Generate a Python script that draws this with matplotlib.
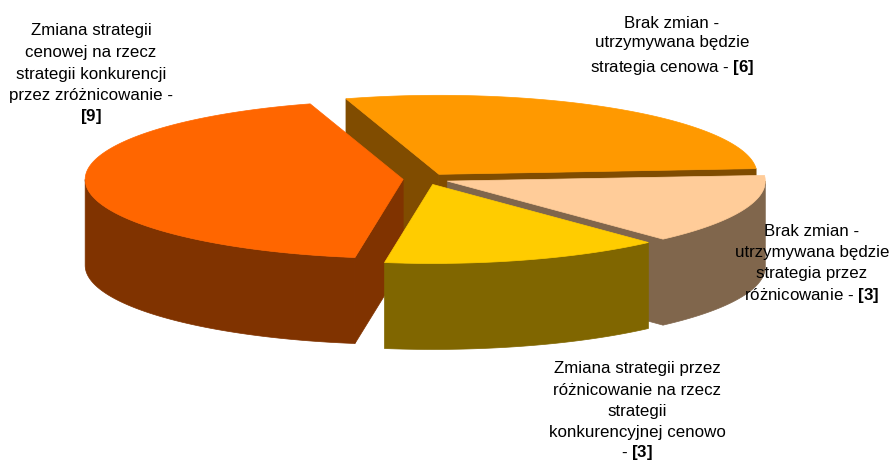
import numpy as np
import matplotlib.pyplot as plt
from matplotlib.patches import Polygon

plt.rcParams['font.family'] = ['Liberation Sans', 'DejaVu Sans']
plt.rcParams['mathtext.fontset'] = 'custom'
plt.rcParams['mathtext.rm'] = 'Liberation Sans'
plt.rcParams['mathtext.bf'] = 'Liberation Sans:bold'

# dane
wartosci = [6, 3, 3, 9]
kolory = ['#FF9900', '#FFCC99', '#FFCC00', '#FF6600']
kolory_boku = ['#804C00', '#80664C', '#806600', '#803300']
opisy = [
    ["Brak zmian -", "utrzymywana będzie", "strategia cenowa - "],
    ["Brak zmian -", "utrzymywana będzie", "strategia przez", "różnicowanie - "],
    ["Zmiana strategii przez", "różnicowanie na rzecz", "strategii",
     "konkurencyjnej cenowo", "- "],
    ["Zmiana strategii", "cenowej na rzecz", "strategii konkurencji",
     "przez zróżnicowanie -", ""],
]

# polozenie opisow (srodek x, linie bazowe)
pozycje_opisow = [
    (672, [28, 47, 72]),
    (812, [236, 257, 278, 300]),
    (637, [373, 395, 416, 437, 457]),
    (91, [35, 57, 79, 100, 121]),
]

# geometria "3D"
cx, cy = 426, 179
a, b = 318, 79      # polosie elipsy
h = 86              # grubosc
wybuch = 0.072      # wysuniecie kawalkow
start = -17         # kat poczatkowy (stopnie, zgodnie z zegarem od godz. 12)

fig = plt.figure(figsize=(8.91, 4.62), dpi=100)
ax = fig.add_axes([0, 0, 1, 1])
ax.set_xlim(0, 891)
ax.set_ylim(462, 0)
ax.axis('off')


def punkt(t, ox, oy, dz=0.0):
    r = np.radians(t)
    return ox + a * np.sin(r), oy - b * np.cos(r) + dz


suma = sum(wartosci)
katy = np.cumsum([0] + [v / suma * 360 for v in wartosci]) + start

sciany = []
wierzch = []
for i in range(len(wartosci)):
    t0, t1 = katy[i], katy[i + 1]
    mid = np.radians((t0 + t1) / 2)
    ox = cx + wybuch * a * np.sin(mid)
    oy = cy - wybuch * b * np.cos(mid)
    glab_srodka = wybuch * np.cos(mid)

    # sciana zewnetrzna (tylko przednia czesc)
    lo, hi = max(t0, 90), min(t1, 270)
    if lo < hi:
        luk = np.linspace(lo, hi, 80)
        gx, gy = punkt(luk, ox, oy)
        pts = np.column_stack([np.concatenate([gx, gx[::-1]]),
                               np.concatenate([gy, gy[::-1] + h])])
        glab = glab_srodka + np.mean(np.cos(np.radians(luk)))
        sciany.append((glab, pts, kolory_boku[i]))

    # sciany promieniowe
    for e, n in ((t0, t0 - 90), (t1, t1 + 90)):
        if np.cos(np.radians(n)) < 0:
            rx, ry = punkt(e, ox, oy)
            pts = np.array([[ox, oy], [rx, ry], [rx, ry + h], [ox, oy + h]])
            glab = glab_srodka + 0.5 * np.cos(np.radians(e))
            sciany.append((glab, pts, kolory_boku[i]))

    # wierzch
    luk = np.linspace(t0, t1, 150)
    gx, gy = punkt(luk, ox, oy)
    pts = np.column_stack([np.concatenate([[ox], gx]), np.concatenate([[oy], gy])])
    wierzch.append((pts, kolory[i]))

sciany.sort(key=lambda s: -s[0])
for z, (glab, pts, kol) in enumerate(sciany):
    ax.add_patch(Polygon(pts, closed=True, facecolor=kol, edgecolor=kol,
                         lw=0.5, zorder=1 + z))
for pts, kol in wierzch:
    ax.add_patch(Polygon(pts, closed=True, facecolor=kol, edgecolor=kol,
                         lw=0.5, zorder=50))

# opisy
for i, linie in enumerate(opisy):
    x, bazy = pozycje_opisow[i]
    for j, linia in enumerate(linie):
        if j == len(linie) - 1:
            linia = linia + r"$\mathbf{[" + str(wartosci[i]) + r"]}$"
        ax.text(x, bazy[j], linia, ha='center', va='baseline',
                fontsize=12.2, color='black', zorder=60)

plt.savefig('out.png', dpi=100)
